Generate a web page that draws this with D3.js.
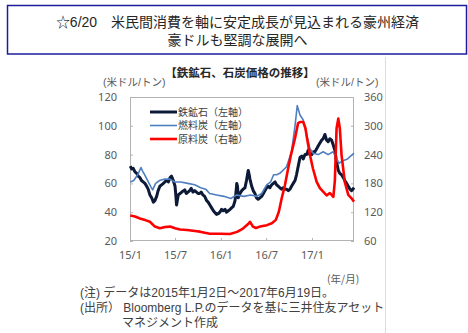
<!DOCTYPE html>
<html><head><meta charset="utf-8">
<script src="https://cdn.jsdelivr.net/npm/d3@7"></script>
<style>html,body{margin:0;padding:0;background:#fff;}svg{display:block;font-family:"Noto Sans CJK JP","Noto Sans",sans-serif;}</style>
</head><body>
<svg id="c" width="468" height="333"></svg>
<script>
// ---- data ----
const titleLines = ["☆6/20　米民間消費を軸に安定成長が見込まれる豪州経済", "豪ドルも堅調な展開へ"];
const chartTitle = "【鉄鉱石、石炭価格の推移】";
const unitLabel = "(米ドル/トン)";
const seriesNames = ["鉄鉱石（左軸）", "燃料炭（左軸）", "原料炭（右軸）"];
const xTickDates = ["2015-01-01", "2015-07-01", "2016-01-01", "2016-07-01", "2017-01-01"];
const xTickLabels = ["15/1", "15/7", "16/1", "16/7", "17/1"];
const leftTicks = [20, 40, 60, 80, 100, 120];
const rightTicks = [60, 120, 180, 240, 300, 360];
const xAxisUnit = "(年/月)";
const notes = ["(注) データは2015年1月2日～2017年6月19日。", "(出所） Bloomberg L.P.のデータを基に三井住友アセット", "マネジメント作成"];

const ironOre = [
["2015-01-02",72],["2015-01-08",70],["2015-01-14",70.5],["2015-01-21",68],["2015-01-28",67],["2015-02-03",65],["2015-02-10",64],["2015-02-16",62],["2015-02-23",61],["2015-03-02",60],["2015-03-09",58],["2015-03-15",56],["2015-03-22",52],["2015-03-29",50],["2015-04-05",47],["2015-04-11",48],["2015-04-18",51],["2015-04-24",55],["2015-05-01",58],["2015-05-08",59],["2015-05-15",60],["2015-05-21",61],["2015-05-28",62],["2015-06-04",61],["2015-06-11",64],["2015-06-17",65],["2015-06-24",62],["2015-07-01",58],["2015-07-04",52],["2015-07-07",45],["2015-07-10",48],["2015-07-14",52],["2015-07-21",53],["2015-07-28",54],["2015-08-09",55.5],["2015-08-15",53],["2015-08-22",54],["2015-08-29",55],["2015-09-04",56.5],["2015-09-11",54],["2015-09-18",55],["2015-09-25",54],["2015-10-01",53],["2015-10-08",53],["2015-10-14",54],["2015-10-21",52],["2015-10-28",51],["2015-11-05",48],["2015-11-11",47],["2015-11-18",45],["2015-11-25",43],["2015-12-02",41],["2015-12-09",39.5],["2015-12-15",38.5],["2015-12-22",39],["2015-12-28",40],
["2016-01-04",42],["2016-01-11",41],["2016-01-18",42],["2016-01-24",40],["2016-01-31",41],["2016-02-07",42],["2016-02-13",43],["2016-02-20",44],["2016-02-27",48],["2016-03-02",54],["2016-03-05",60],["2016-03-08",58],["2016-03-11",50],["2016-03-18",53],["2016-03-25",55],["2016-03-31",56],["2016-04-07",57],["2016-04-13",62],["2016-04-20",69],["2016-04-24",66],["2016-04-27",63],["2016-05-04",58],["2016-05-10",55],["2016-05-17",53],["2016-05-23",50],["2016-05-30",49],["2016-06-06",50],["2016-06-13",51],["2016-06-20",53],["2016-06-26",55],["2016-07-03",57],["2016-07-09",58],["2016-07-16",57],["2016-07-23",59],["2016-07-30",60],["2016-08-06",61],["2016-08-12",59],["2016-08-19",58],["2016-08-25",57],["2016-09-01",56],["2016-09-08",57],["2016-09-14",56],["2016-09-21",56],["2016-09-28",55],["2016-10-05",56],["2016-10-11",58],["2016-10-18",60],["2016-10-25",62],["2016-10-31",66],["2016-11-07",72],["2016-11-14",78],["2016-11-21",79],["2016-11-27",77],["2016-12-04",80],["2016-12-11",80],["2016-12-17",83],["2016-12-24",80],["2016-12-31",80],
["2017-01-07",82],["2017-01-13",82],["2017-01-20",84],["2017-01-26",86],["2017-02-02",88],["2017-02-09",90],["2017-02-15",91],["2017-02-22",94],["2017-03-01",90],["2017-03-07",89],["2017-03-14",91],["2017-03-21",90],["2017-03-27",87],["2017-04-03",83],["2017-04-10",75],["2017-04-17",69],["2017-04-23",67],["2017-04-30",66],["2017-05-07",64],["2017-05-13",62],["2017-05-20",60],["2017-05-27",58],["2017-06-03",56],["2017-06-09",55],["2017-06-15",56],["2017-06-19",57]
];

const thermalCoal = [
["2015-01-02",61],["2015-01-16",62],["2015-02-01",66],["2015-02-14",71],["2015-02-22",68],["2015-03-01",66],["2015-03-13",62],["2015-03-25",58],["2015-04-02",55.5],["2015-04-14",60],["2015-04-30",62],["2015-05-21",63],["2015-06-10",63],["2015-06-30",61],["2015-07-24",61],["2015-08-21",60],["2015-09-18",59],["2015-10-12",57],["2015-11-01",56],["2015-11-17",53],["2015-12-15",52],
["2016-01-13",51],["2016-02-10",49.5],["2016-03-05",52],["2016-04-02",51],["2016-04-30",52],["2016-05-24",51],["2016-06-13",53],["2016-07-03",59],["2016-07-19",61],["2016-07-31",66],["2016-08-12",66],["2016-08-25",67],["2016-09-21",71.6],["2016-10-11",82],["2016-10-25",100],["2016-11-03",114],["2016-11-14",107.5],["2016-11-27",104],["2016-12-11",93.6],["2016-12-24",84],
["2017-01-06",81],["2017-01-26",80],["2017-02-15",82],["2017-03-07",80],["2017-03-27",82],["2017-04-07",78],["2017-04-20",74],["2017-05-03",75.5],["2017-05-24",77],["2017-06-19",81]
];

const cokingCoal = [
["2015-01-02",113],["2015-01-21",111],["2015-02-10",107],["2015-03-06",103],["2015-03-22",100],["2015-04-11",90],["2015-05-01",86.5],["2015-05-22",89],["2015-06-11",90],["2015-07-01",86.5],["2015-07-21",84],["2015-08-18",83],["2015-09-19",81],["2015-10-09",79.5],["2015-10-29",77],["2015-11-18",75],["2015-12-28",75],
["2016-02-07",74.5],["2016-03-06",79],["2016-03-30",86],["2016-04-23",97],["2016-04-27",100],["2016-05-09",90],["2016-05-21",87],["2016-06-06",90],["2016-07-04",93],["2016-07-24",97],["2016-08-09",104],["2016-08-21",121],["2016-09-02",150],["2016-09-14",175],["2016-09-27",210],["2016-10-09",240],["2016-10-25",274],["2016-11-06",305],["2016-11-14",308],["2016-11-27",308],["2016-12-06",295],["2016-12-12",275],["2016-12-24",239],
["2017-01-05",211],["2017-01-20",183],["2017-02-02",170],["2017-02-15",163],["2017-03-01",155],["2017-03-14",160],["2017-03-28",152],["2017-04-03",185],["2017-04-10",295],["2017-04-17",315],["2017-04-23",295],["2017-04-30",239],["2017-05-13",183],["2017-05-27",156],["2017-06-09",149],["2017-06-19",142]
];

// ---- drawing ----
const parse = d3.timeParse("%Y-%m-%d");
const svg = d3.select("#c");
const compactFont = "'Liberation Sans','Noto Sans CJK JP',sans-serif";
svg.append("rect").attr("width",468).attr("height",333).attr("fill","#fff");

// title box
svg.append("rect").attr("x",7.5).attr("y",5.5).attr("width",459).attr("height",48.5)
  .attr("fill","none").attr("stroke","#1c1c9c").attr("stroke-width",1.5);
titleLines.forEach((t,i)=>{
  svg.append("text").attr("x",237.5).attr("y",27+i*18).attr("text-anchor","middle")
    .attr("font-size",14).attr("font-family",compactFont).attr("fill","#262626").text(t);
});

// right frame line
svg.append("line").attr("x1",385.5).attr("x2",385.5).attr("y1",57).attr("y2",333)
  .attr("stroke","#dcdcdc").attr("stroke-width",1);

const L=130,R=354,T=97,B=241;
const x = d3.scaleTime().domain([parse("2015-01-01"), parse("2017-06-19")]).range([L,R]);
const yL = d3.scaleLinear().domain([20,120]).range([B,T]);
const yR = d3.scaleLinear().domain([60,360]).range([B,T]);

svg.append("text").attr("x",240).attr("y",77).attr("text-anchor","middle")
  .attr("font-size",11.5).attr("font-weight","bold").attr("fill","#262626").text(chartTitle);
svg.append("text").attr("x",103).attr("y",86).attr("font-size",10.5)
  .attr("font-family",compactFont).attr("fill","#595959").text(unitLabel);
svg.append("text").attr("x",316).attr("y",86).attr("font-size",10.5)
  .attr("font-family",compactFont).attr("fill","#595959").text(unitLabel);

// plot frame
svg.append("rect").attr("x",L+0.5).attr("y",T+0.5).attr("width",R-L-1).attr("height",B-T-1)
  .attr("fill","none").attr("stroke","#b3b3b3").attr("stroke-width",1);

function styleAxis(g){
  g.select(".domain").remove();
  g.selectAll(".tick line").attr("stroke","#b3b3b3");
  g.selectAll(".tick text").attr("fill","#595959").attr("font-size",11)
    .attr("font-family","'Noto Sans','Noto Sans CJK JP',sans-serif");
}
svg.append("g").attr("transform",`translate(${L},0)`)
  .call(d3.axisLeft(yL).tickValues(leftTicks).tickSize(-3).tickPadding(13).tickFormat(d3.format("d")))
  .call(styleAxis);
svg.append("g").attr("transform",`translate(${R},0)`)
  .call(d3.axisRight(yR).tickValues(rightTicks).tickSize(-3).tickPadding(10).tickFormat(d3.format("d")))
  .call(styleAxis);
svg.append("g").attr("transform",`translate(0,${B})`)
  .call(d3.axisBottom(x).tickValues(xTickDates.map(parse)).tickSize(-3).tickPadding(10)
    .tickFormat((d,i)=>xTickLabels[i]))
  .call(styleAxis);

const colors = ["#0c1a38","#4f7fc0","#ff0000"];
const widths = [3,1.6,2.6];
const lineL = d3.line().x(d=>x(parse(d[0]))).y(d=>yL(d[1]));
const lineR = d3.line().x(d=>x(parse(d[0]))).y(d=>yR(d[1]));
const plot = svg.append("g");
[[ironOre,lineL],[thermalCoal,lineL],[cokingCoal,lineR]].forEach(([data,gen],i)=>{
  plot.append("path").attr("d",gen(data)).attr("fill","none").attr("stroke",colors[i])
    .attr("stroke-width",widths[i]).attr("stroke-linejoin","round");
});

// legend
seriesNames.forEach((n,i)=>{
  const yy = 112 + i*13.5;
  svg.append("line").attr("x1",150).attr("x2",177).attr("y1",yy).attr("y2",yy)
    .attr("stroke",colors[i]).attr("stroke-width",widths[i]);
  svg.append("text").attr("x",178).attr("y",yy+3.5).attr("font-size",10)
    .attr("font-family",compactFont).attr("fill","#404040").text(n);
});

svg.append("text").attr("x",327).attr("y",283).attr("font-size",10.5).attr("fill","#595959").text(xAxisUnit);

svg.append("clipPath").attr("id","nc").append("rect").attr("x",0).attr("y",260).attr("width",384).attr("height",80);
const ng = svg.append("g").attr("clip-path","url(#nc)");
[[80,297],[80,312],[122,326.5]].forEach(([xx,yy],i)=>{
  ng.append("text").attr("x",xx).attr("y",yy).attr("font-size",12)
    .attr("font-family",compactFont).attr("fill","#404040").text(notes[i]);
});
</script>
</body></html>
